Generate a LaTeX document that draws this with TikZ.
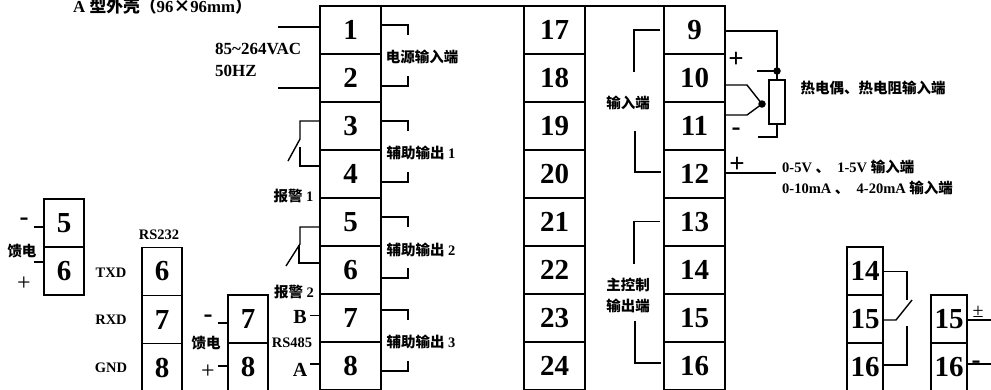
\documentclass[tikz,border=0pt]{standalone}
\usepackage{fontspec}
\setmainfont{Liberation Serif}
\newfontfamily\cjk{Noto Sans CJK SC}
\newcommand{\zh}[1]{{\cjk #1}}
\tikzset{
  x=1pt,y=-1pt,
  cell/.style={draw,line width=1.8pt,minimum width=61pt,minimum height=48pt,inner sep=0,outer sep=0,font=\fontsize{29}{29}\selectfont\bfseries},
  sbox/.style={cell,line width=1.5pt,minimum width=40pt},
  rbox/.style={cell,line width=1.5pt,minimum width=36pt},
  wire/.style={line width=1.4pt},
  lab/.style={inner sep=0,font=\fontsize{14.5}{16}\selectfont\bfseries},
  lab big/.style={inner sep=0,font=\fontsize{20}{20}\selectfont\bfseries},
  sign/.style={inner sep=0,font=\fontsize{27}{27}\selectfont\bfseries},
  lite sign/.style={inner sep=0,font=\fontsize{24}{24}\selectfont},
  dot/.style={circle,fill=black,inner sep=0,minimum size=7.5pt},
}
\begin{document}
\begin{tikzpicture}
\useasboundingbox (0,0) rectangle (991,389);
\clip (0,0) rectangle (991,389);
% main columns
\foreach \n/\c in {1/30,2/78,3/126,4/174,5/222,6/270,7/318,8/366}
  \node[cell] (m\n) at (350.5,\c) {\n};
\foreach \n/\c in {17/30,18/78,19/126,20/174,21/222,22/270,23/318,24/366}
  \node[cell] (k\n) at (554.5,\c) {\n};
\foreach \n/\c in {9/30,10/78,11/126,12/174,13/222,14/270,15/318,16/366}
  \node[cell] (r\n) at (694.5,\c) {\n};
\draw[line width=2.2pt] (m1.north west) -- (r9.north east);
% small blocks
\node[sbox] (a5) at (64,223) {5};
\node[sbox] (a6) at (64,271) {6};
\draw[line width=2.2pt] (a5.south west) -- (a5.south east);
\node[sbox] (b6) at (162,271.5) {6};
\node[sbox] (b7) at (162,319.5) {7};
\node[sbox] (b8) at (162,367.5) {8};
\node[sbox] (c7) at (248,319) {7};
\node[sbox] (c8) at (248,367) {8};
\node[rbox] (d14) at (865,271) {14};
\node[rbox] (d15) at (865,319) {15};
\node[rbox] (d16) at (865,367) {16};
\node[rbox] (e15) at (949,319) {15};
\node[rbox] (e16) at (949,367) {16};
% title and left text
\node[lab,anchor=west,font=\fontsize{16.8}{17}\selectfont\bfseries] (title) at (73,6.5) {A \zh{型外壳（}96\zh{×}96mm\zh{）}};
\node[lab,anchor=west,font=\fontsize{17}{17}\selectfont\bfseries] (volt) at (215,49) {85\textasciitilde264VAC};
\node[lab,anchor=west,font=\fontsize{17}{17}\selectfont\bfseries] (hz) at (215,71) {50HZ};
% power
\draw[wire] ([yshift=3pt]m1.west) -- ++(-42,0);
\draw[wire] ([yshift=-10pt]m2.west) -- ++(-42,0);
\foreach \a/\y/\z in {m1/5/10,m3/5/10,m5/5/10,m7/8/10}
  \draw[wire] ([yshift=\y pt]\a.east) -- ++(27,0) -- ++(0,\z);
\foreach \a/\y/\z in {m2/-8/-10,m4/-8/-10,m6/-8/-10,m8/-5/-10}
  \draw[wire] ([yshift=\y pt]\a.east) -- ++(27,0) -- ++(0,\z);
\node[lab] (pw) at (422,57) {\zh{电源输入端}};
\node[lab] (o1) at (421,153) {\zh{辅助输出} 1};
\node[lab] (o2) at (421,250) {\zh{辅助输出} 2};
\node[lab] (o3) at (421,342) {\zh{辅助输出} 3};
% alarm contacts
\draw[wire] ([yshift=5pt]m3.west) -- ++(-20,0) -- ++(0,18) -- ++(-12,22);
\draw[wire] ([yshift=8pt]m4.west) -- ++(-20,0) -- ++(0,-19);
\draw[wire] ([yshift=-5pt]m5.west) -- ++(-20,0) -- ++(0,17) -- ++(-14,22);
\draw[wire] ([yshift=7pt]m6.west) -- ++(-21,0) -- ++(0,-18);
\node[lab] (al1) at (293.5,196) {\zh{报警} 1};
\node[lab] (al2) at (294,292) {\zh{报警} 2};
% RS485
\draw[wire] ([yshift=2.5pt]m7.west) -- ++(-10,0);
\draw[wire] ([yshift=2pt]m8.west) -- ++(-10,0);
\node[lab big] (lb) at (300,317) {B};
\node[lab big] (la) at (300,370) {A};
\node[lab] (r485) at (292,343) {RS485};
% feed 5/6
\draw[wire] ([yshift=-4pt]a5.west) -- ++(-10,0);
\draw[wire] ([yshift=9pt]a6.west) -- ++(-10,0);
\node[sign] (am) at (24,222) {-};
\node[lab] (af) at (22,251) {\zh{馈电}};
\node[lite sign] (ap) at (24,284) {+};
% RS232
\node[lab] (rs) at (159,235) {RS232};
\node[lab] (tx) at (111,273) {TXD};
\node[lab] (rx) at (111,320) {RXD};
\node[lab] (gn) at (111,368) {GND};
% feed 7/8
\draw[wire] ([yshift=-4pt]c7.west) -- ++(-10,0);
\draw[wire] ([yshift=1pt]c8.west) -- ++(-10,0);
\node[sign] (cm) at (208,319) {-};
\node[lab] (cf) at (206,343) {\zh{馈电}};
\node[lite sign] (cp) at (208,372) {+};
% inner brackets
\draw[wire] ([xshift=-4pt]r9.west) -- ++(-26,0) -- ++(0,42);
\draw[wire] ([xshift=-3pt,yshift=2pt]r12.west) -- ++(-26,0) -- ++(0,-41);
\draw[wire] ([xshift=-4pt,yshift=.5pt]r13.west) -- ++(-26,0) -- ++(0,42);
\draw[wire] ([xshift=-3pt,yshift=3pt]r16.west) -- ++(-26,0) -- ++(0,-42);
\node[lab] (in1) at (628,103) {\zh{输入端}};
\node[lab] (ct1) at (628,285) {\zh{主控制}};
\node[lab] (ct2) at (628,306) {\zh{输出端}};
% sensors
\node[draw,line width=1.2pt,minimum width=16pt,minimum height=44pt,inner sep=0,outer sep=0] (res) at (777,102) {};
\node[dot] (d1) at (777,71) {};
\node[dot] (d2) at (762,104) {};
\draw[wire] ([yshift=-1pt]r9.east) -- ++(52,0) -- (d1.center) -- (res.north);
\draw[wire] (d1.center) -- ++(-20,0);
\draw[wire] ([yshift=-7pt]r10.east) -- ++(22,0) -- (d2.center);
\draw[wire] ([yshift=11pt]r11.east) -- ++(22,0) -- (d2.center);
\draw[wire] (res.south) -- ++(0,13) -- ++(-19,0);
\draw[wire] ([yshift=1pt]r12.east) -- ++(51,0);
\node[sign] (s1) at (736,60) {+};
\node[sign] (s2) at (736,132) {-};
\node[sign] (s3) at (737,165) {+};
\node[lab] (th) at (873,88) {\zh{热电偶、热电阻输入端}};
\node[lab,anchor=west,font=\fontsize{14.5}{15}\selectfont\bfseries] (v1) at (782,167) {0-5V \zh{、}\ \ 1-5V \zh{输入端}};
\node[lab,anchor=west,font=\fontsize{14.5}{15}\selectfont\bfseries] (v2) at (782,188) {0-10mA \zh{、}\ \ 4-20mA \zh{输入端}};
% relay
\draw[wire] ([yshift=-.5pt]d14.east) -- ++(24,0) -- ++(0,28);
\draw[wire] ([yshift=-1pt]d15.east) -- ++(13,0) -- ++(16,-20);
\draw[wire] ([yshift=2pt]d16.east) -- ++(24,0) -- ++(0,-39);
% analog outputs
\draw[wire] ([yshift=-1pt]e15.east) -- ++(24,0);
\draw[wire] ([yshift=3pt]e16.east) -- ++(24,0);
\node[inner sep=0,font=\fontsize{20}{20}\selectfont] (pm) at (978,312) {±};
\node[sign] (mi) at (976,365) {-};
\end{tikzpicture}
\end{document}
